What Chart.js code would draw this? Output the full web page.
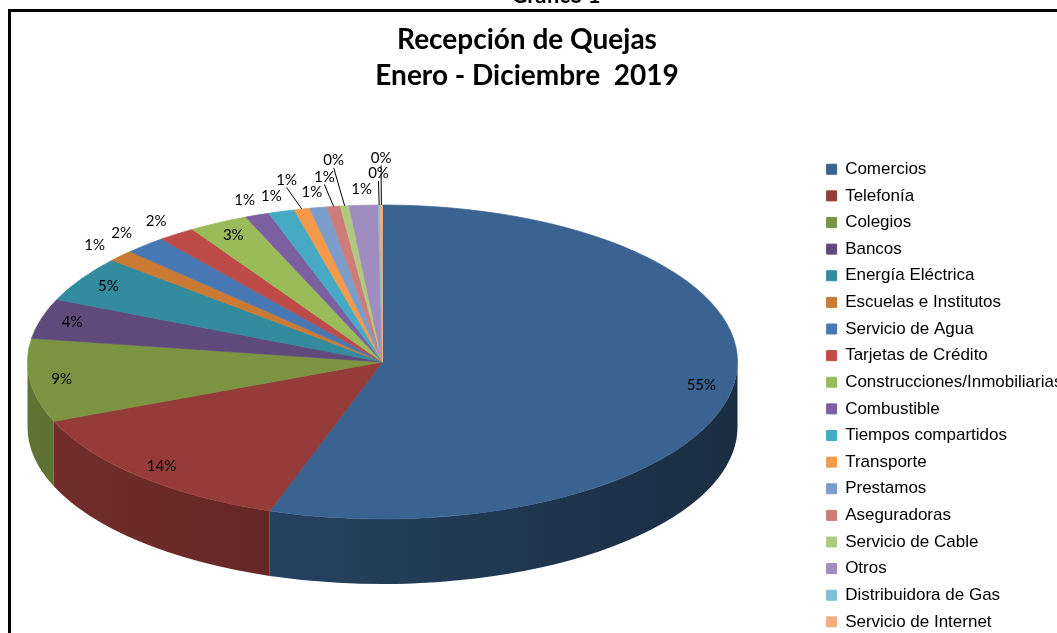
<!DOCTYPE html>
<html>
<head>
<meta charset="utf-8">
<script src="https://cdn.jsdelivr.net/npm/chart.js@4"></script>
<style>
    html, body { margin: 0; padding: 0; background: #fff; overflow: hidden; }
    body { width: 1057px; height: 633px; position: relative; }
    #chart { position: absolute; left: -52px; top: 0; }
    .frame { position: absolute; left: 8px; top: 9px; width: 1200px; height: 800px; border: 3px solid #000; pointer-events: none; }
    .caption { position: absolute; left: 356px; top: -16px; width: 400px; text-align: center; font: bold 22px Lato, sans-serif; line-height: 22px; color: #000; }
    .title { position: absolute; left: 227px; top: 20px; width: 600px; text-align: center; font: bold 28px Lato, sans-serif; line-height: 36px; color: #000; white-space: pre; }
</style>
</head>
<body>
<canvas id="chart" width="1130" height="640"></canvas>
<div class="caption">Gráfico 1</div>
<div class="frame"></div>
<div class="title">Recepción de Quejas
Enero - Diciembre  2019</div>
<script>
const categories = ['Comercios', 'Telefonía', 'Colegios', 'Bancos', 'Energía Eléctrica',
    'Escuelas e Institutos', 'Servicio de Agua', 'Tarjetas de Crédito', 'Construcciones/Inmobiliarias',
    'Combustible', 'Tiempos compartidos', 'Transporte', 'Prestamos', 'Aseguradoras',
    'Servicio de Cable', 'Otros', 'Distribuidora de Gas', 'Servicio de Internet'];

// share of complaints, percent
const shares = [55.2, 13.7, 8.6, 4.1, 4.7, 1.2, 1.9, 1.7, 2.7, 1.1, 1.2, 0.7, 0.8, 0.6, 0.4, 1.3, 0.1, 0.1];

const sliceColors = ['#3a6391', '#953b39', '#7a9442', '#5f4a7b', '#338b9e', '#cb7a34',
    '#4778b3', '#be4b48', '#9abb59', '#7c5fa0', '#46aac5', '#f59a4a',
    '#7c9dcb', '#cf7c79', '#afca80', '#a08cbe', '#7cc0d6', '#f7ae7a'];

function shade(hex, f)
{
    const n = parseInt(hex.slice(1), 16);
    const r = Math.round(((n >> 16) & 255) * f);
    const g = Math.round(((n >> 8) & 255) * f);
    const b = Math.round((n & 255) * f);
    return `rgb(${r},${g},${b})`;
}

// squashes the pie into a tilted disc, draws the front wall and the % labels
const pie3d =
{
    id: 'pie3d',

    beforeDatasetsDraw(chart, args, opts)
    {
        const arcs = chart.getDatasetMeta(0).data;
        const ctx = chart.ctx;
        const {x, y, outerRadius: r} = arcs[0];

        ctx.save();
        ctx.translate(x, y);
        ctx.scale(1, opts.tilt);
        ctx.translate(-x, -y);

        const depth = opts.depth / opts.tilt;
        arcs.forEach((arc, i) =>
        {
            const a0 = Math.max(arc.startAngle, 0);
            const a1 = Math.min(arc.endAngle, Math.PI);
            if (a1 <= a0) return;

            const grad = ctx.createLinearGradient(x - r, 0, x + r, 0);
            grad.addColorStop(0, shade(sliceColors[i], 0.78));
            grad.addColorStop(1, shade(sliceColors[i], 0.45));
            ctx.fillStyle = grad;
            ctx.beginPath();
            ctx.arc(x, y, r, a0, a1);
            ctx.arc(x, y + depth, r, a1, a0, true);
            ctx.closePath();
            ctx.fill();
        });
    },

    afterDatasetsDraw(chart, args, opts)
    {
        const ctx = chart.ctx;
        ctx.restore();

        const arcs = chart.getDatasetMeta(0).data;
        const values = chart.data.datasets[0].data;
        const total = values.reduce((a, b) => a + b, 0);
        const {x, y, outerRadius: r} = arcs[0];
        const at = (a, f) => ({x: x + Math.cos(a) * r * f, y: y + Math.sin(a) * r * f * opts.tilt});

        ctx.save();
        ctx.font = opts.font;
        ctx.fillStyle = '#000';
        ctx.strokeStyle = '#000';
        ctx.lineWidth = 1;
        ctx.textAlign = 'center';
        ctx.textBaseline = 'middle';

        const placed = [];
        const h = opts.lineHeight;
        arcs.forEach((arc, i) =>
        {
            const share = values[i] / total;
            const text = Math.round(share * 100) + '%';
            const mid = (arc.startAngle + arc.endAngle) / 2;
            const w = ctx.measureText(text).width + 4;
            const inside = share >= 0.025;
            const hits = q => placed.some(b => Math.abs(b.x - q.x) < (b.w + w) / 2 && Math.abs(b.y - q.y) < (b.h + h) / 2);

            let f = inside ? 0.91 : 1.1;
            let p = at(mid, f);
            let pushed = false;
            while (!inside && hits(p) && f < 2)
            {
                f += 0.01;
                p = at(mid, f);
                pushed = true;
            }
            placed.push({x: p.x, y: p.y, w: w, h: h});

            if (pushed)
            {
                const e = at(mid, 1);
                ctx.beginPath();
                ctx.moveTo(e.x, e.y);
                ctx.lineTo(p.x, p.y + h / 2);
                ctx.stroke();
            }
            ctx.fillText(text, p.x, p.y);
        });
        ctx.restore();
    }
};

new Chart(document.getElementById('chart'),
{
    type: 'pie',
    data:
    {
        labels: categories,
        datasets:
        [
            {
                data: shares,
                backgroundColor: sliceColors,
                borderColor: sliceColors,
                borderWidth: 1,
                clip: false
            }
        ]
    },
    options:
    {
        responsive: false,
        animation: false,
        events: [],
        radius: 355,
        layout:
        {
            padding: {left: 0, top: 84, right: 11, bottom: 0}
        },
        plugins:
        {
            legend:
            {
                position: 'right',
                align: 'end',
                maxWidth: 250,
                labels:
                {
                    boxWidth: 10,
                    boxHeight: 10,
                    padding: 9.625,
                    color: '#000',
                    font: {family: '"Liberation Sans", Arial, sans-serif', size: 17}
                }
            },
            tooltip: {enabled: false},
            pie3d: {tilt: 0.4423, depth: 65, font: '15px Lato', lineHeight: 15}
        }
    },
    plugins: [pie3d]
});
</script>
</body>
</html>
